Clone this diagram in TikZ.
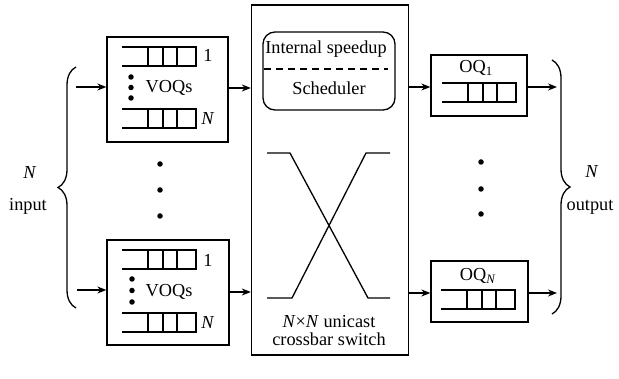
\documentclass[tikz,border=0pt]{standalone}
\usepackage{fontspec}
\setmainfont{Liberation Serif}
\usetikzlibrary{arrows.meta,decorations.pathreplacing}
\begin{document}
\begin{tikzpicture}[x=1pt,y=-1pt,line width=1.3pt,
  box/.style={draw,rectangle,inner sep=0pt},
  arr/.style={-{Stealth[length=9pt,width=7pt]}},
  lbl/.style={font=\fontsize{18.3}{21}\selectfont,inner sep=0pt},
  dotc/.style={circle,fill,inner sep=0pt,minimum size=5.5pt},
  qline/.style={line width=1.6pt},
  queue/.pic={
    \draw[qline] (0,0) -- (74,0) -- (74,19) -- (0,19);
    \draw[qline] (26,0) -- (26,19) (41,0) -- (41,19) (55,0) -- (55,19);
  },
  brc/.style={decorate,decoration={brace,amplitude=18pt},line width=1.3pt}]
\useasboundingbox (0,0) rectangle (619,379);

% VOQ boxes
\node[box,minimum width=121pt,minimum height=105pt] (voq1) at (167.5,89.5) {};
\node[box,minimum width=122pt,minimum height=105pt] (voqN) at (168,292.5) {};
\pic at (122,47) {queue};
\pic at (122,109) {queue};
\pic at (122,250) {queue};
\pic at (122,313) {queue};
\node[lbl] (v1a) at (208,55) {1};
\node[lbl] (v1b) at (208,119) {\textit{N}};
\node[lbl] (v2a) at (208,260) {1};
\node[lbl] (v2b) at (208,323) {\textit{N}};
\node[lbl] (v1t) at (169,88) {VOQs};
\node[lbl] (v2t) at (169,292) {VOQs};
\node[dotc] (d11) at (131,77) {};
\node[dotc] (d12) at (131,87.5) {};
\node[dotc] (d13) at (131,98) {};
\node[dotc] (d21) at (132,279) {};
\node[dotc] (d22) at (132,290.5) {};
\node[dotc] (d23) at (132,302) {};

% vertical dots between VOQs
\node[dotc] (m1) at (160,164) {};
\node[dotc] (m2) at (160,190) {};
\node[dotc] (m3) at (160,216) {};

% switch
\node[box,minimum width=157pt,minimum height=350pt] (sw) at (330,180) {};
\node[draw,rounded corners=12pt,minimum width=132pt,minimum height=78pt,inner sep=0pt] (sched) at (329,71) {};
\draw[dash pattern=on 7pt off 5pt] ([xshift=2pt]sched.west |- 0,69) -- ([xshift=-8pt]sched.east |- 0,69);
\node[lbl] (t1) at (326,49) {Internal speedup};
\node[lbl] (t2) at (329,88) {Scheduler};
\draw (267,153) -- (290,153) -- (368,298) -- (390,298);
\draw (390,153) -- (366,153) -- (292,298) -- (267,298);
\node[lbl] (t3) at (329,322) {\textit{N}×\textit{N} unicast};
\node[lbl] (t4) at (329,339) {crossbar switch};

% output queues
\node[box,minimum width=96pt,minimum height=61pt] (oq1) at (479,85.5) {};
\node[box,minimum width=97pt,minimum height=61pt] (oqN) at (479.5,291.5) {};
\pic at (442,83) {queue};
\pic at (441,290) {queue};
\node[lbl] (o1t) at (476,68) {OQ\textsubscript{1}};
\node[lbl] (oNt) at (478,276) {OQ\textsubscript{\textit{N}}};
\node[dotc] (r1) at (481,162) {};
\node[dotc] (r2) at (481,189) {};
\node[dotc] (r3) at (481,214) {};

% connectors
\coordinate (in1) at (76,87);
\coordinate (in2) at (77,290);
\coordinate (out1) at (557,87);
\coordinate (out2) at (557,293);
\draw[arr] (in1) -- (voq1.west |- in1);
\draw[arr] (in2) -- (voqN.west |- in2);
\draw[arr] (voq1.east |- 0,88) -- (sw.west |- 0,88);
\draw[arr] (voqN.east |- 0,292) -- (sw.west |- 0,292);
\draw[arr] (sw.east |- 0,87) -- (oq1.west |- 0,87);
\draw[arr] (sw.east |- 0,293) -- (oqN.west |- 0,293);
\draw[arr] (oq1.east |- out1) -- (out1);
\draw[arr] (oqN.east |- out2) -- (out2);

% braces
\draw[brc] (76,308) -- (76,67);
\draw[brc] (552,60) -- (552,314);
\node[lbl] (nl) at (30,173) {\textit{N}};
\node[lbl] (il) at (28,206) {input};
\node[lbl] (nr) at (592,172) {\textit{N}};
\node[lbl] (ol) at (590,207) {output};
\end{tikzpicture}
\end{document}
